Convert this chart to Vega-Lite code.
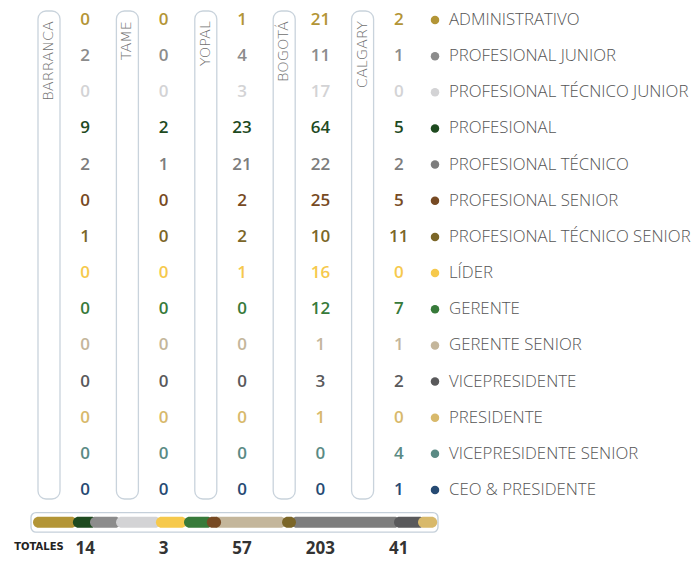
{
  "$schema": "https://vega.github.io/schema/vega-lite/v6.json",
  "padding": {"left": 14, "top": 10, "right": 0, "bottom": 0},
  "background": "white",
  "config": {"view": {"stroke": null}, "font": "Open Sans"},
  "datasets": {
    "ciudades": [
      {"ciudad": "BARRANCA"}, {"ciudad": "TAME"}, {"ciudad": "YOPAL"}, {"ciudad": "BOGOTÁ"}, {"ciudad": "CALGARY"}
    ],
    "cargos": [
      {"cargo": "ADMINISTRATIVO"}, {"cargo": "PROFESIONAL JUNIOR"}, {"cargo": "PROFESIONAL TÉCNICO JUNIOR"},
      {"cargo": "PROFESIONAL"}, {"cargo": "PROFESIONAL TÉCNICO"}, {"cargo": "PROFESIONAL SENIOR"},
      {"cargo": "PROFESIONAL TÉCNICO SENIOR"}, {"cargo": "LÍDER"}, {"cargo": "GERENTE"},
      {"cargo": "GERENTE SENIOR"}, {"cargo": "VICEPRESIDENTE"}, {"cargo": "PRESIDENTE"},
      {"cargo": "VICEPRESIDENTE SENIOR"}, {"cargo": "CEO & PRESIDENTE"}
    ],
    "personal": [
      {"ciudad": "BARRANCA", "cargo": "ADMINISTRATIVO", "valor": 0},
      {"ciudad": "TAME", "cargo": "ADMINISTRATIVO", "valor": 0},
      {"ciudad": "YOPAL", "cargo": "ADMINISTRATIVO", "valor": 1},
      {"ciudad": "BOGOTÁ", "cargo": "ADMINISTRATIVO", "valor": 21},
      {"ciudad": "CALGARY", "cargo": "ADMINISTRATIVO", "valor": 2},
      {"ciudad": "BARRANCA", "cargo": "PROFESIONAL JUNIOR", "valor": 2},
      {"ciudad": "TAME", "cargo": "PROFESIONAL JUNIOR", "valor": 0},
      {"ciudad": "YOPAL", "cargo": "PROFESIONAL JUNIOR", "valor": 4},
      {"ciudad": "BOGOTÁ", "cargo": "PROFESIONAL JUNIOR", "valor": 11},
      {"ciudad": "CALGARY", "cargo": "PROFESIONAL JUNIOR", "valor": 1},
      {"ciudad": "BARRANCA", "cargo": "PROFESIONAL TÉCNICO JUNIOR", "valor": 0},
      {"ciudad": "TAME", "cargo": "PROFESIONAL TÉCNICO JUNIOR", "valor": 0},
      {"ciudad": "YOPAL", "cargo": "PROFESIONAL TÉCNICO JUNIOR", "valor": 3},
      {"ciudad": "BOGOTÁ", "cargo": "PROFESIONAL TÉCNICO JUNIOR", "valor": 17},
      {"ciudad": "CALGARY", "cargo": "PROFESIONAL TÉCNICO JUNIOR", "valor": 0},
      {"ciudad": "BARRANCA", "cargo": "PROFESIONAL", "valor": 9},
      {"ciudad": "TAME", "cargo": "PROFESIONAL", "valor": 2},
      {"ciudad": "YOPAL", "cargo": "PROFESIONAL", "valor": 23},
      {"ciudad": "BOGOTÁ", "cargo": "PROFESIONAL", "valor": 64},
      {"ciudad": "CALGARY", "cargo": "PROFESIONAL", "valor": 5},
      {"ciudad": "BARRANCA", "cargo": "PROFESIONAL TÉCNICO", "valor": 2},
      {"ciudad": "TAME", "cargo": "PROFESIONAL TÉCNICO", "valor": 1},
      {"ciudad": "YOPAL", "cargo": "PROFESIONAL TÉCNICO", "valor": 21},
      {"ciudad": "BOGOTÁ", "cargo": "PROFESIONAL TÉCNICO", "valor": 22},
      {"ciudad": "CALGARY", "cargo": "PROFESIONAL TÉCNICO", "valor": 2},
      {"ciudad": "BARRANCA", "cargo": "PROFESIONAL SENIOR", "valor": 0},
      {"ciudad": "TAME", "cargo": "PROFESIONAL SENIOR", "valor": 0},
      {"ciudad": "YOPAL", "cargo": "PROFESIONAL SENIOR", "valor": 2},
      {"ciudad": "BOGOTÁ", "cargo": "PROFESIONAL SENIOR", "valor": 25},
      {"ciudad": "CALGARY", "cargo": "PROFESIONAL SENIOR", "valor": 5},
      {"ciudad": "BARRANCA", "cargo": "PROFESIONAL TÉCNICO SENIOR", "valor": 1},
      {"ciudad": "TAME", "cargo": "PROFESIONAL TÉCNICO SENIOR", "valor": 0},
      {"ciudad": "YOPAL", "cargo": "PROFESIONAL TÉCNICO SENIOR", "valor": 2},
      {"ciudad": "BOGOTÁ", "cargo": "PROFESIONAL TÉCNICO SENIOR", "valor": 10},
      {"ciudad": "CALGARY", "cargo": "PROFESIONAL TÉCNICO SENIOR", "valor": 11},
      {"ciudad": "BARRANCA", "cargo": "LÍDER", "valor": 0},
      {"ciudad": "TAME", "cargo": "LÍDER", "valor": 0},
      {"ciudad": "YOPAL", "cargo": "LÍDER", "valor": 1},
      {"ciudad": "BOGOTÁ", "cargo": "LÍDER", "valor": 16},
      {"ciudad": "CALGARY", "cargo": "LÍDER", "valor": 0},
      {"ciudad": "BARRANCA", "cargo": "GERENTE", "valor": 0},
      {"ciudad": "TAME", "cargo": "GERENTE", "valor": 0},
      {"ciudad": "YOPAL", "cargo": "GERENTE", "valor": 0},
      {"ciudad": "BOGOTÁ", "cargo": "GERENTE", "valor": 12},
      {"ciudad": "CALGARY", "cargo": "GERENTE", "valor": 7},
      {"ciudad": "BARRANCA", "cargo": "GERENTE SENIOR", "valor": 0},
      {"ciudad": "TAME", "cargo": "GERENTE SENIOR", "valor": 0},
      {"ciudad": "YOPAL", "cargo": "GERENTE SENIOR", "valor": 0},
      {"ciudad": "BOGOTÁ", "cargo": "GERENTE SENIOR", "valor": 1},
      {"ciudad": "CALGARY", "cargo": "GERENTE SENIOR", "valor": 1},
      {"ciudad": "BARRANCA", "cargo": "VICEPRESIDENTE", "valor": 0},
      {"ciudad": "TAME", "cargo": "VICEPRESIDENTE", "valor": 0},
      {"ciudad": "YOPAL", "cargo": "VICEPRESIDENTE", "valor": 0},
      {"ciudad": "BOGOTÁ", "cargo": "VICEPRESIDENTE", "valor": 3},
      {"ciudad": "CALGARY", "cargo": "VICEPRESIDENTE", "valor": 2},
      {"ciudad": "BARRANCA", "cargo": "PRESIDENTE", "valor": 0},
      {"ciudad": "TAME", "cargo": "PRESIDENTE", "valor": 0},
      {"ciudad": "YOPAL", "cargo": "PRESIDENTE", "valor": 0},
      {"ciudad": "BOGOTÁ", "cargo": "PRESIDENTE", "valor": 1},
      {"ciudad": "CALGARY", "cargo": "PRESIDENTE", "valor": 0},
      {"ciudad": "BARRANCA", "cargo": "VICEPRESIDENTE SENIOR", "valor": 0},
      {"ciudad": "TAME", "cargo": "VICEPRESIDENTE SENIOR", "valor": 0},
      {"ciudad": "YOPAL", "cargo": "VICEPRESIDENTE SENIOR", "valor": 0},
      {"ciudad": "BOGOTÁ", "cargo": "VICEPRESIDENTE SENIOR", "valor": 0},
      {"ciudad": "CALGARY", "cargo": "VICEPRESIDENTE SENIOR", "valor": 4},
      {"ciudad": "BARRANCA", "cargo": "CEO & PRESIDENTE", "valor": 0},
      {"ciudad": "TAME", "cargo": "CEO & PRESIDENTE", "valor": 0},
      {"ciudad": "YOPAL", "cargo": "CEO & PRESIDENTE", "valor": 0},
      {"ciudad": "BOGOTÁ", "cargo": "CEO & PRESIDENTE", "valor": 0},
      {"ciudad": "CALGARY", "cargo": "CEO & PRESIDENTE", "valor": 1}
    ],
    "barra": [
      {"cargo": "ADMINISTRATIVO", "inicio": 0.5, "fin": 11.3},
      {"cargo": "PROFESIONAL", "inicio": 10.3, "fin": 16.2},
      {"cargo": "PROFESIONAL JUNIOR", "inicio": 14.5, "fin": 22.1},
      {"cargo": "PROFESIONAL TÉCNICO JUNIOR", "inicio": 20.9, "fin": 31.9},
      {"cargo": "LÍDER", "inicio": 30.7, "fin": 38.3},
      {"cargo": "GERENTE", "inicio": 37.6, "fin": 44.7},
      {"cargo": "GERENTE SENIOR", "inicio": 44.5, "fin": 62.7},
      {"cargo": "PROFESIONAL TÉCNICO", "inicio": 63.9, "fin": 90.7},
      {"cargo": "VICEPRESIDENTE", "inicio": 89.2, "fin": 96.8},
      {"cargo": "PRESIDENTE", "inicio": 95.1, "fin": 99.8},
      {"cargo": "PROFESIONAL SENIOR", "inicio": 43.2, "fin": 46.7},
      {"cargo": "PROFESIONAL TÉCNICO SENIOR", "inicio": 61.7, "fin": 65.1}
    ],
    "marco": [{"fila": "barra", "inicio": 0, "fin": 100}],
    "rotulo": [{"fila": "TOTALES", "ciudad": "BARRANCA", "texto": "TOTALES"}]
  },
  "vconcat": [
    {
      "width": 470.4,
      "height": 488,
      "layer": [
        {
          "data": {"name": "ciudades"},
          "mark": {"type": "rect", "width": 22, "xOffset": -28.2, "fill": "white", "stroke": "#c9d3dc", "strokeWidth": 1.3, "cornerRadius": 8},
          "encoding": {
            "x": {"field": "ciudad", "type": "nominal", "axis": null,
                  "scale": {"type": "band", "domain": ["BARRANCA", "TAME", "YOPAL", "BOGOTÁ", "CALGARY", "LEYENDA"], "paddingInner": 0, "paddingOuter": 0}}
          }
        },
        {
          "data": {"name": "personal"},
          "transform": [{"filter": "datum.cargo === 'ADMINISTRATIVO'"}],
          "mark": {"type": "text", "angle": 270, "align": "right", "baseline": "middle", "xOffset": -28.2, "yOffset": 1, "fontSize": 14.5, "fontWeight": 300, "color": "#707070", "font": "DejaVu Sans"},
          "encoding": {
            "x": {"field": "ciudad", "type": "nominal", "axis": null},
            "y": {"field": "cargo", "type": "nominal", "axis": null},
            "text": {"field": "ciudad", "type": "nominal"}
          }
        },
        {
          "data": {"name": "personal"},
          "mark": {"type": "text", "xOffset": 8, "fontSize": 17, "fontWeight": 600, "baseline": "middle"},
          "encoding": {
            "x": {"field": "ciudad", "type": "nominal", "axis": null},
            "y": {"field": "cargo", "type": "nominal", "axis": null,
                  "scale": {"type": "point", "domain": ["ADMINISTRATIVO", "PROFESIONAL JUNIOR", "PROFESIONAL TÉCNICO JUNIOR", "PROFESIONAL", "PROFESIONAL TÉCNICO", "PROFESIONAL SENIOR", "PROFESIONAL TÉCNICO SENIOR", "LÍDER", "GERENTE", "GERENTE SENIOR", "VICEPRESIDENTE", "PRESIDENTE", "VICEPRESIDENTE SENIOR", "CEO & PRESIDENTE"], "padding": 0.249}},
            "color": {"field": "cargo", "type": "nominal", "legend": null,
                      "scale": {"domain": ["ADMINISTRATIVO", "PROFESIONAL JUNIOR", "PROFESIONAL TÉCNICO JUNIOR", "PROFESIONAL", "PROFESIONAL TÉCNICO", "PROFESIONAL SENIOR", "PROFESIONAL TÉCNICO SENIOR", "LÍDER", "GERENTE", "GERENTE SENIOR", "VICEPRESIDENTE", "PRESIDENTE", "VICEPRESIDENTE SENIOR", "CEO & PRESIDENTE"],
                                "range": ["#b39536", "#8c8c8c", "#d3d3d5", "#1e4a1f", "#7d7d7d", "#774a23", "#7b6628", "#f6c94c", "#377a3a", "#c4b69b", "#59595b", "#d8b96b", "#5a8a84", "#264a73"]}},
            "text": {"field": "valor", "type": "quantitative"}
          }
        },
        {
          "data": {"name": "cargos"},
          "transform": [{"calculate": "'LEYENDA'", "as": "columna"}],
          "mark": {"type": "point", "filled": true, "opacity": 1, "size": 72, "xOffset": -34.2},
          "encoding": {
            "x": {"field": "columna", "type": "nominal", "axis": null},
            "y": {"field": "cargo", "type": "nominal", "axis": null},
            "color": {"field": "cargo", "type": "nominal", "legend": null}
          }
        },
        {
          "data": {"name": "cargos"},
          "transform": [{"calculate": "'LEYENDA'", "as": "columna"}],
          "mark": {"type": "text", "align": "left", "baseline": "middle", "xOffset": -20.2, "fontSize": 16.8, "fontWeight": 300, "color": "#555555"},
          "encoding": {
            "x": {"field": "columna", "type": "nominal", "axis": null},
            "y": {"field": "cargo", "type": "nominal", "axis": null},
            "text": {"field": "cargo", "type": "nominal"}
          }
        }
      ]
    },
    {
      "width": 470.4,
      "height": 53.4,
      "layer": [
        {
          "layer": [
            {
              "data": {"name": "marco"},
              "mark": {"type": "bar", "size": 19.5, "fill": "white", "stroke": "#c5d0da", "strokeWidth": 1.4, "cornerRadius": 5},
              "encoding": {
                "x": {"field": "inicio", "type": "quantitative", "axis": null, "scale": {"domain": [1.72, 117.3], "nice": false, "zero": false}},
                "x2": {"field": "fin"},
                "y": {"field": "fila", "type": "nominal", "axis": null,
                      "scale": {"type": "band", "domain": ["barra", "TOTALES"], "paddingInner": 0, "paddingOuter": 0}}
              }
            },
            {
              "data": {"name": "barra"},
              "transform": [{"calculate": "'barra'", "as": "fila"}],
              "mark": {"type": "bar", "size": 11, "cornerRadius": 5.5},
              "encoding": {
                "x": {"field": "inicio", "type": "quantitative", "axis": null},
                "x2": {"field": "fin"},
                "y": {"field": "fila", "type": "nominal", "axis": null},
                "color": {"field": "cargo", "type": "nominal", "legend": null,
                          "scale": {"domain": ["ADMINISTRATIVO", "PROFESIONAL JUNIOR", "PROFESIONAL TÉCNICO JUNIOR", "PROFESIONAL", "PROFESIONAL TÉCNICO", "PROFESIONAL SENIOR", "PROFESIONAL TÉCNICO SENIOR", "LÍDER", "GERENTE", "GERENTE SENIOR", "VICEPRESIDENTE", "PRESIDENTE", "VICEPRESIDENTE SENIOR", "CEO & PRESIDENTE"],
                                    "range": ["#b39536", "#8c8c8c", "#d3d3d5", "#1e4a1f", "#7d7d7d", "#774a23", "#7b6628", "#f6c94c", "#377a3a", "#c4b69b", "#59595b", "#d8b96b", "#5a8a84", "#264a73"]}}
              }
            }
          ]
        },
        {
          "layer": [
            {
              "data": {"name": "personal"},
              "transform": [
                {"aggregate": [{"op": "sum", "field": "valor", "as": "total"}], "groupby": ["ciudad"]},
                {"calculate": "'TOTALES'", "as": "fila"}
              ],
              "mark": {"type": "text", "xOffset": 8, "fontSize": 17, "fontWeight": 700, "color": "#333333", "baseline": "middle"},
              "encoding": {
                "x": {"field": "ciudad", "type": "nominal", "axis": null,
                      "scale": {"type": "band", "domain": ["BARRANCA", "TAME", "YOPAL", "BOGOTÁ", "CALGARY", "LEYENDA"], "paddingInner": 0, "paddingOuter": 0}},
                "y": {"field": "fila", "type": "nominal", "axis": null},
                "text": {"field": "total", "type": "quantitative"}
              }
            },
            {
              "data": {"name": "rotulo"},
              "mark": {"type": "text", "xOffset": -38.2, "yOffset": -2, "fontSize": 10, "fontWeight": 700, "color": "#222222", "baseline": "middle", "font": "DejaVu Sans"},
              "encoding": {
                "x": {"field": "ciudad", "type": "nominal", "axis": null},
                "y": {"field": "fila", "type": "nominal", "axis": null},
                "text": {"field": "texto", "type": "nominal"}
              }
            }
          ]
        }
      ],
      "resolve": {"scale": {"x": "independent"}}
    }
  ],
  "spacing": 10,
  "bounds": "flush"
}
